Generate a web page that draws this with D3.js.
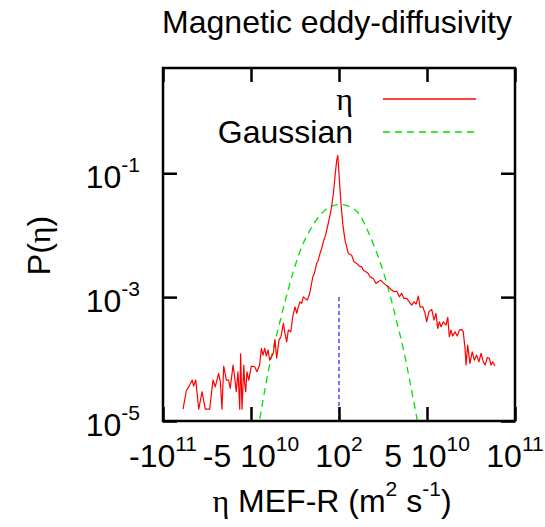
<!DOCTYPE html>
<html><head><meta charset="utf-8">
<script src="https://cdn.jsdelivr.net/npm/d3@7"></script>
<style>html,body{margin:0;padding:0;background:#fff;}svg{display:block;}</style>
</head><body>
<script>
// ---- data (x in units of 1e10 m^2 s^-1) ----
const etaX = [-8.86,-8.68,-8.48,-8.34,-8.26,-8.14,-7.97,-7.78,-7.60,-7.35,-7.16,-7.03,-6.91,-6.84,-6.74,-6.65,-6.55,-6.40,-6.27,-6.18,-6.02,-5.93,-5.84,-5.74,-5.64,-5.59,-5.51,-5.41,-5.36,-5.30,-5.23,-5.13,-4.98,-4.79,-4.66,-4.51,-4.41,-4.32,-4.22,-4.13,-4.03,-3.94,-3.73,-3.64,-3.54,-3.41,-3.30,-3.16,-3.07,-2.97,-2.88,-2.74,-2.63,-2.50,-2.40,-2.31,-2.22,-2.12,-2.03,-1.93,-1.80,-1.69,-1.59,-1.49,-1.40,-1.27,-1.18,-1.08,-0.98,-0.89,-0.76,-0.61,-0.45,-0.32,-0.21,-0.13,-0.07,0.00,0.10,0.21,0.34,0.53,0.72,0.85,1.01,1.15,1.29,1.38,1.53,1.66,1.76,1.95,2.10,2.23,2.37,2.52,2.67,2.80,2.99,3.13,3.28,3.43,3.56,3.69,3.85,3.99,4.13,4.26,4.38,4.51,4.60,4.76,4.89,4.98,5.11,5.27,5.40,5.51,5.61,5.70,5.80,5.93,6.08,6.18,6.27,6.36,6.46,6.59,6.72,6.84,6.97,7.06,7.16,7.22,7.31,7.44,7.57,7.69,7.82,7.95,8.07,8.20,8.30,8.43,8.54,8.64,8.73,8.86];
const etaP = [1.55e-5,3.05e-5,3.81e-5,4.58e-5,3.67e-5,4.58e-5,1.55e-5,2.97e-5,1.55e-5,1.55e-5,4.58e-5,3.57e-5,4.89e-5,5.87e-5,4.31e-5,1.55e-5,7.71e-5,4.58e-5,4.58e-5,3.37e-5,8.0e-5,5.19e-5,2.97e-5,6.24e-5,1.55e-5,1.21e-4,1.55e-5,8.0e-5,4.06e-5,2.97e-5,6.24e-5,4.58e-5,7.71e-5,7.52e-5,6.24e-5,8.0e-5,1.49e-4,1.16e-4,1.49e-4,1.12e-4,1.40e-4,9.6e-5,1.24e-4,2.08e-4,1.03e-4,2.02e-4,2.29e-4,3.77e-4,2.60e-4,1.90e-4,2.94e-4,2.75e-4,4.81e-4,6.98e-4,5.46e-4,6.98e-4,8.39e-4,7.91e-4,1.01e-3,9.53e-4,8.95e-4,1.08e-3,1.47e-3,2.12e-3,2.41e-3,3.50e-3,3.95e-3,5.07e-3,6.10e-3,7.80e-3,1.0e-2,1.55e-2,2.53e-2,4.71e-2,9.9e-2,0.162,0.195,9.9e-2,3.67e-2,1.55e-2,8.30e-3,5.07e-3,4.75e-3,3.71e-3,3.50e-3,3.16e-3,3.08e-3,2.72e-3,2.56e-3,2.41e-3,2.12e-3,2.00e-3,1.66e-3,1.77e-3,1.88e-3,1.70e-3,1.56e-3,1.47e-3,1.30e-3,1.22e-3,1.25e-3,1.01e-3,1.15e-3,9.53e-4,9.53e-4,8.39e-4,7.43e-4,8.39e-4,7.71e-4,1.04e-3,6.98e-4,6.98e-4,5.46e-4,4.00e-4,5.79e-4,6.34e-4,4.26e-4,5.46e-4,3.13e-4,4.00e-4,3.32e-4,4.00e-4,3.53e-4,4.71e-4,2.29e-4,2.94e-4,2.35e-4,2.75e-4,2.35e-4,2.94e-4,3.01e-4,2.75e-4,1.49e-4,8.0e-5,1.68e-4,8.53e-5,1.31e-4,9.6e-5,1.16e-4,9.0e-5,1.24e-4,9.0e-5,8.0e-5,1.06e-4,1.03e-4,8.0e-5,9.0e-5,7.71e-5];
const gaussX = [-4.60,-4.49,-4.20,-3.82,-3.45,-3.07,-2.60,-2.12,-1.65,-1.08,-0.51,0.06,0.63,1.19,1.66,2.05,2.52,2.90,3.28,3.65,4.03,4.41,4.50];
const gaussP = [7e-6,1.11e-5,3.37e-5,1.16e-4,3.13e-4,8.39e-4,2.56e-3,6.47e-3,1.20e-2,2.10e-2,2.86e-2,3.13e-2,2.86e-2,2.10e-2,1.13e-2,6.10e-3,2.56e-3,1.08e-3,4.00e-4,1.49e-4,4.31e-5,1.17e-5,8.5e-6];
const meanX = [0, 0];
const meanP = [1e-3, 1e-5];
const xTickValues = [-10, -5, 0, 5, 10];
const xTickBase = ["-10", "-5 10", "10", "5 10", "10"];
const xTickExp = ["11", "10", "2", "10", "11"];
const yTickValues = [1e-1, 1e-3, 1e-5];
const yTickBase = ["10", "10", "10"];
const yTickExp = ["-1", "-3", "-5"];
const seriesNames = ["η", "Gaussian"];
const title = "Magnetic eddy-diffusivity";

// ---- layout ----
const W = 545, H = 527;
const L = 163, R = 515, T = 68, B = 421;
const FONT = "'Liberation Sans', Arial, Helvetica, sans-serif";
const SERIF = "'Liberation Serif', 'DejaVu Serif', serif";
const FS = 32, SFS = 21, SUP = 16;

const svg = d3.select("body").append("svg").attr("width", W).attr("height", H)
  .style("font-family", FONT);

const x = d3.scaleLinear().domain([-10, 10]).range([L, R]);
const y = d3.scaleLog().domain([1e-5, 5]).range([B, T]);

svg.append("defs").append("clipPath").attr("id", "clip")
  .append("rect").attr("x", L).attr("y", T).attr("width", R - L).attr("height", B - T);

const plot = svg.append("g").attr("clip-path", "url(#clip)");

const line = d3.line().x(d => x(d[0])).y(d => y(d[1]));

const etaData = d3.range(Math.min(etaX.length, etaP.length)).map(i => [etaX[i], etaP[i]]);
const gaussData = gaussX.map((v, i) => [v, gaussP[i]]);
const meanData = meanX.map((v, i) => [v, meanP[i]]);

plot.append("path").datum(meanData).attr("d", line)
  .attr("fill", "none").attr("stroke", "#1a1aff").attr("stroke-width", 1.2)
  .attr("stroke-dasharray", "4,3");
plot.append("path").datum(gaussData).attr("d", line.curve(d3.curveMonotoneX))
  .attr("fill", "none").attr("stroke", "#00e000").attr("stroke-width", 1.3)
  .attr("stroke-dasharray", "7,5");
plot.append("path").datum(etaData).attr("d", d3.line().x(d => x(d[0])).y(d => y(d[1])))
  .attr("fill", "none").attr("stroke", "#ff0000").attr("stroke-width", 1.2)
  .attr("stroke-linejoin", "round");

// ---- axes ticks (inward, mirrored) ----
const tickStyle = g => { g.select(".domain").remove(); g.selectAll("text").remove();
  g.selectAll("line").attr("stroke", "#000").attr("stroke-width", 2.5); };
svg.append("g").attr("transform", `translate(0,${B})`)
  .call(d3.axisBottom(x).tickValues(xTickValues).tickSize(-14).tickSizeOuter(0)).call(tickStyle);
svg.append("g").attr("transform", `translate(0,${T})`)
  .call(d3.axisTop(x).tickValues(xTickValues).tickSize(-14).tickSizeOuter(0)).call(tickStyle);
svg.append("g").attr("transform", `translate(${L},0)`)
  .call(d3.axisLeft(y).tickValues(yTickValues).tickSize(-14).tickSizeOuter(0)).call(tickStyle);
svg.append("g").attr("transform", `translate(${R},0)`)
  .call(d3.axisRight(y).tickValues(yTickValues).tickSize(-14).tickSizeOuter(0)).call(tickStyle);

svg.append("rect").attr("x", L).attr("y", T).attr("width", R - L).attr("height", B - T)
  .attr("fill", "none").attr("stroke", "#000").attr("stroke-width", 2.5);

// ---- tick labels ----
function supLabel(sel, base, exp) {
  sel.append("tspan").text(base);
  sel.append("tspan").attr("font-size", SFS).attr("dy", -SUP).text(exp);
}
xTickValues.forEach((v, i) => {
  const t = svg.append("text").attr("x", x(v)).attr("y", 467)
    .attr("text-anchor", "middle").attr("font-size", FS).attr("fill", "#000");
  supLabel(t, xTickBase[i], xTickExp[i]);
});
yTickValues.forEach((v, i) => {
  const t = svg.append("text").attr("x", L - 23).attr("y", y(v) + 15)
    .attr("text-anchor", "end").attr("font-size", FS).attr("fill", "#000");
  supLabel(t, yTickBase[i], yTickExp[i]);
});

// ---- title and axis labels ----
svg.append("text").attr("x", (L + R) / 2 - 2).attr("y", 33).attr("text-anchor", "middle")
  .attr("font-size", FS).text(title);

const xl = svg.append("text").attr("x", (L + R) / 2 - 7).attr("y", 512)
  .attr("text-anchor", "middle").attr("font-size", FS);
xl.append("tspan").attr("font-family", SERIF).text("η");
xl.append("tspan").text(" MEF-R (m");
xl.append("tspan").attr("font-size", SFS).attr("dy", -SUP).text("2");
xl.append("tspan").attr("dy", SUP).text(" s");
xl.append("tspan").attr("font-size", SFS).attr("dy", -SUP).text("-1");
xl.append("tspan").attr("dy", SUP).text(")");

const yl = svg.append("text").attr("transform", `translate(50,${(T + B) / 2 + 1}) rotate(-90)`)
  .attr("text-anchor", "middle").attr("font-size", FS);
yl.append("tspan").text("P(");
yl.append("tspan").attr("font-family", SERIF).text("η");
yl.append("tspan").text(")");

// ---- legend ----
const legColors = ["#ff0000", "#00e000"];
const legDash = [null, "7,5"];
seriesNames.forEach((name, i) => {
  const by = 110 + i * 33;
  svg.append("text").attr("x", 353).attr("y", by).attr("text-anchor", "end")
    .attr("font-size", FS).attr("font-family", i === 0 ? SERIF : FONT).text(name);
  svg.append("line").attr("x1", 383).attr("x2", 476).attr("y1", by - 11).attr("y2", by - 11)
    .attr("stroke", legColors[i]).attr("stroke-width", 1.3)
    .attr("stroke-dasharray", legDash[i]);
});
</script>
</body></html>
